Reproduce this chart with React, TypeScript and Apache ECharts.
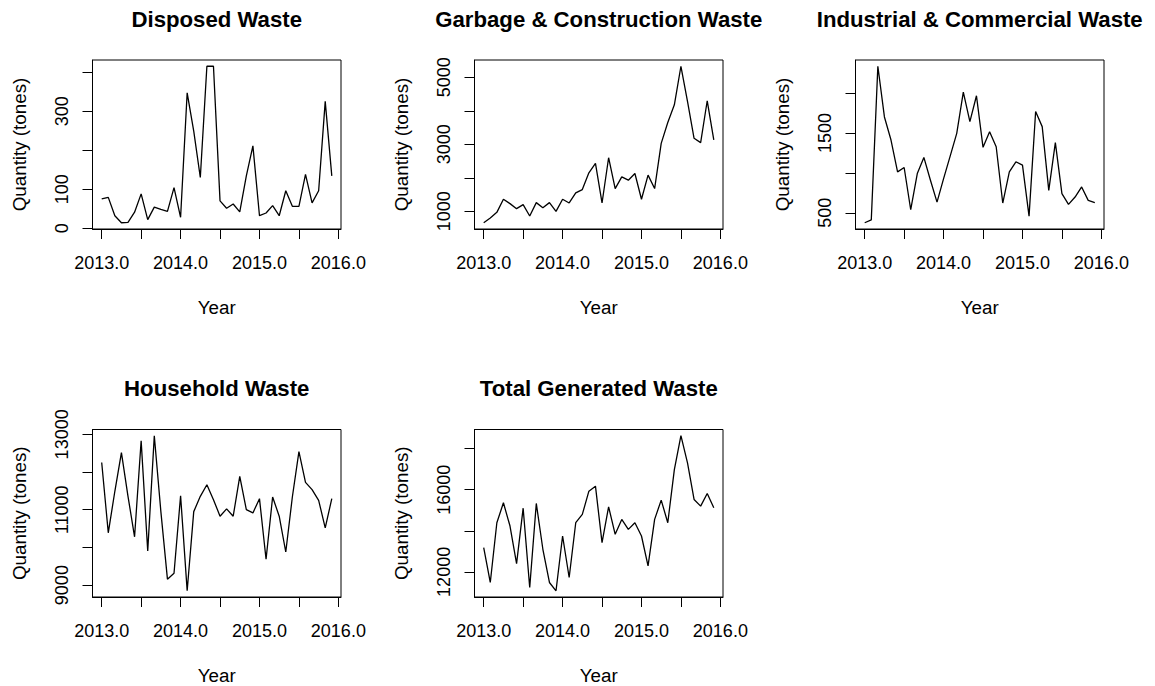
import React, { useEffect, useRef } from "react";
import * as echarts from "echarts";

const startYear = 2013;
const titles = [
  "Disposed Waste",
  "Garbage & Construction Waste",
  "Industrial & Commercial Waste",
  "Household Waste",
  "Total Generated Waste",
];
const disposed = [75, 79, 32, 14, 15, 41, 88, 22, 54, 48, 43, 104, 28, 347, 249, 130, 415, 415, 70, 51, 62, 42, 134, 211, 32, 39, 58, 32, 96, 56, 56, 138, 65, 96, 325, 134];
const garbage = [660, 800, 970, 1360, 1230, 1080, 1200, 860, 1260, 1110, 1260, 1000, 1360, 1250, 1550, 1650, 2150, 2430, 1250, 2600, 1680, 2030, 1930, 2130, 1360, 2080, 1680, 3030, 3650, 4180, 5330, 4280, 3180, 3050, 4300, 3130];
const industrial = [375, 410, 2335, 1700, 1411, 1012, 1067, 538, 991, 1193, 907, 634, 928, 1210, 1495, 2012, 1642, 1966, 1319, 1516, 1327, 622, 1012, 1138, 1096, 458, 1768, 1579, 781, 1378, 739, 605, 697, 823, 655, 626];
const household = [12252, 10389, 11490, 12516, 11356, 10283, 12832, 9905, 12964, 10950, 9158, 9316, 11373, 8850, 10950, 11356, 11663, 11268, 10828, 11022, 10828, 11883, 11004, 10916, 11294, 9686, 11338, 10828, 9879, 11338, 12542, 11725, 11532, 11250, 10521, 11294];
const total = [13180, 11483, 14393, 15363, 14231, 12400, 15100, 11240, 15331, 13100, 11483, 11078, 13746, 11725, 14393, 14797, 15929, 16172, 13423, 15169, 13827, 14555, 14070, 14393, 13746, 12291, 14555, 15493, 14393, 16980, 18630, 17304, 15525, 15202, 15816, 15121];
const seriesValues = [disposed, garbage, industrial, household, total];

const xTicks = [2013, 2013.5, 2014, 2014.5, 2015, 2015.5, 2016];
const xLabels = [2013, 2014, 2015, 2016];
const yTicks = [
  [0, 100, 200, 300, 400],
  [1000, 2000, 3000, 4000, 5000],
  [500, 1000, 1500, 2000],
  [9000, 10000, 11000, 12000, 13000],
  [12000, 14000, 16000, 18000],
];
const yLabels = [
  [0, 100, 300],
  [1000, 3000, 5000],
  [500, 1500],
  [9000, 11000, 13000],
  [12000, 16000],
];
const xName = "Year";
const yName = "Quantity (tones)";

const FONT = '"Liberation Sans", Arial, sans-serif';

function rRange(arr: number[]): [number, number] {
  const mn = Math.min(...arr);
  const mx = Math.max(...arr);
  const d = (mx - mn) * 0.04;
  return [mn - d, mx + d];
}

export default function App() {
  const ref = useRef<HTMLDivElement>(null);
  useEffect(() => {
    if (!ref.current) return;
    const chart = echarts.init(ref.current, undefined, { renderer: "svg" });
    const lefts = [92.5, 474.5, 855.5];
    const tops = [60, 429.5];
    const W = 248.5;
    const H = 169;
    const grids: any[] = [];
    const xAxes: any[] = [];
    const yAxes: any[] = [];
    const series: any[] = [];
    const graphics: any[] = [];
    seriesValues.forEach((vals, k) => {
      const col = k % 3;
      const row = Math.floor(k / 3);
      const xs = vals.map((_, i) => startYear + i / 12);
      const xr = rRange(xs);
      const yr = rRange(vals);
      grids.push({
        left: lefts[col],
        top: tops[row],
        width: W,
        height: H,
        show: true,
        borderColor: "#000",
        borderWidth: 1,
        backgroundColor: "transparent",
        containLabel: false,
      });
      xAxes.push({
        type: "value",
        gridIndex: k,
        min: xr[0],
        max: xr[1],
        axisLine: { show: true, onZero: false, lineStyle: { color: "#000", width: 1 } },
        axisTick: { show: true, inside: false, length: 10, customValues: xTicks, lineStyle: { color: "#000", width: 1 } },
        axisLabel: {
          customValues: xLabels,
          formatter: (v: number) => v.toFixed(1),
          fontSize: 18,
          color: "#000",
          fontFamily: FONT,
          margin: 25,
        },
        splitLine: { show: false },
        name: xName,
        nameLocation: "middle",
        nameGap: 69,
        nameTextStyle: { fontSize: 18.8, color: "#000", fontFamily: FONT },
      });
      yAxes.push({
        type: "value",
        gridIndex: k,
        min: yr[0],
        max: yr[1],
        axisLine: { show: true, onZero: false, lineStyle: { color: "#000", width: 1 } },
        axisTick: { show: true, inside: false, length: 10, customValues: yTicks[k], lineStyle: { color: "#000", width: 1 } },
        axisLabel: {
          customValues: yLabels[k],
          formatter: (v: number) => String(v),
          rotate: 90,
          fontSize: 18,
          color: "#000",
          fontFamily: FONT,
          margin: 22,
          showMinLabel: true,
          showMaxLabel: true,
        },
        splitLine: { show: false },
        name: yName,
        nameLocation: "middle",
        nameGap: 64,
        nameRotate: 90,
        nameTextStyle: { fontSize: 18.8, color: "#000", fontFamily: FONT },
      });
      series.push({
        type: "line",
        xAxisIndex: k,
        yAxisIndex: k,
        data: vals.map((v, i) => [xs[i], v]),
        showSymbol: false,
        symbol: "none",
        lineStyle: { color: "#000", width: 1.3 },
        emphasis: { disabled: true },
      });
      graphics.push({
        type: "text",
        x: lefts[col] + W / 2,
        y: tops[row] - 41,
        style: {
          text: titles[k],
          font: `bold 22.2px ${FONT}`,
          textAlign: "center",
          textVerticalAlign: "middle",
          fill: "#000",
        },
      });
    });
    chart.setOption({
      animation: false,
      backgroundColor: "#fff",
      grid: grids,
      xAxis: xAxes,
      yAxis: yAxes,
      series,
      graphic: graphics,
    });
    return () => chart.dispose();
  }, []);
  return (
    <div
      ref={ref}
      style={{ position: "absolute", left: 0, top: 0, width: 1155, height: 686 }}
    />
  );
}
